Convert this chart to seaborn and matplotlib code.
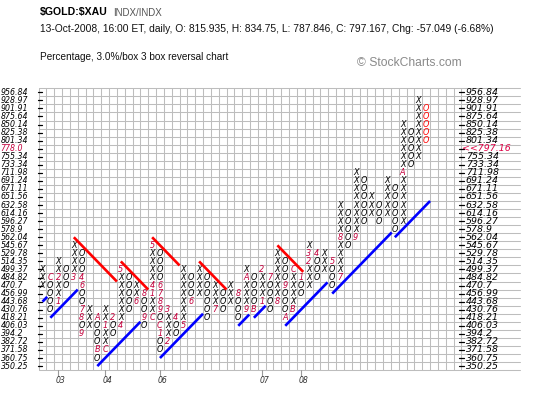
import matplotlib
matplotlib.use("Agg")
import matplotlib.pyplot as plt
import seaborn as sns
import pandas as pd

# ---------------- data ----------------
box_prices = [350.25, 360.75, 371.58, 382.72, 394.2, 406.03, 418.21, 430.76, 443.68,
              456.99, 470.7, 484.82, 499.37, 514.35, 529.78, 545.67, 562.04, 578.9,
              596.27, 614.16, 632.58, 651.56, 671.11, 691.24, 711.98, 733.34, 755.34,
              778.0, 801.34, 825.38, 850.14, 875.64, 901.91, 928.97, 956.84]
box_labels = ["350.25", "360.75", "371.58", "382.72", "394.2", "406.03", "418.21", "430.76",
              "443.68", "456.99", "470.7", "484.82", "499.37", "514.35", "529.78", "545.67",
              "562.04", "578.9", "596.27", "614.16", "632.58", "651.56", "671.11", "691.24",
              "711.98", "733.34", "755.34", "778.0", "801.34", "825.38", "850.14", "875.64",
              "901.91", "928.97", "956.84"]
last_box = 778.0
last_close_label = "<<797.16"

col_types = ["X", "O", "X", "O", "X", "O", "X", "O", "X", "O",
             "X", "O", "X", "O", "X", "O", "X", "O", "X", "O",
             "X", "O", "X", "O", "X", "O", "X", "O", "X", "O",
             "X", "O", "X", "O", "X", "O", "X", "O", "X", "O",
             "X", "O", "X", "O", "X", "O", "X", "O", "X", "O"]
col_low = [470.7, 430.76, 443.68, 470.7, 484.82, 394.2, 406.03, 360.75, 371.58, 394.2,
           406.03, 430.76, 443.68, 406.03, 418.21, 371.58, 382.72, 394.2, 406.03, 443.68,
           456.99, 418.21, 430.76, 430.76, 443.68, 418.21, 430.76, 430.76, 443.68, 430.76,
           443.68, 418.21, 430.76, 456.99, 470.7, 484.82, 499.37, 470.7, 484.82, 545.67,
           562.04, 596.27, 614.16, 596.27, 614.16, 578.9, 596.27, 733.34, 755.34, 801.34]
col_high = [499.37, 484.82, 514.35, 499.37, 545.67, 529.78, 430.76, 418.21, 430.76, 418.21,
            499.37, 484.82, 470.7, 456.99, 545.67, 529.78, 430.76, 418.21, 499.37, 484.82,
            499.37, 484.82, 470.7, 456.99, 470.7, 456.99, 499.37, 484.82, 499.37, 484.82,
            529.78, 514.35, 499.37, 484.82, 545.67, 529.78, 529.78, 514.35, 632.58, 614.16,
            711.98, 691.24, 651.56, 632.58, 691.24, 671.11, 850.14, 825.38, 928.97, 901.91]

month_col = [1, 2, 2, 4, 5, 5, 5, 5, 5, 7, 7, 8, 8, 9, 10, 10, 12, 13, 13, 14, 14, 14, 14,
             15, 15, 15, 15, 15, 15, 16, 16, 17, 18, 19, 22, 25, 26, 26, 27, 28, 28, 29,
             30, 31, 31, 32, 32, 33, 34, 34, 35, 37, 38, 38, 40, 46]
month_price = [484.82, 443.68, 484.82, 484.82, 484.82, 470.7, 430.76, 418.21, 394.2,
               418.21, 371.58, 371.58, 406.03, 418.21, 406.03, 499.37, 443.68, 456.99,
               418.21, 418.21, 456.99, 470.7, 545.67, 470.7, 456.99, 443.68, 430.76,
               406.03, 394.2, 382.72, 430.76, 418.21, 406.03, 443.68, 430.76, 456.99,
               430.76, 484.82, 430.76, 443.68, 499.37, 484.82, 443.68, 470.7, 418.21,
               430.76, 499.37, 484.82, 514.35, 529.78, 529.78, 514.35, 484.82, 562.04,
               562.04, 711.98]
month_char = ["C", "1", "2", "3", "4", "6", "7", "8", "9", "A", "B", "C", "1", "2", "4", "5",
              "6", "8", "9", "C", "1", "4", "5", "6", "7", "8", "9", "C", "1", "2", "3", "4",
              "5", "6", "7", "8", "9", "A", "B", "1", "2", "7", "8", "9", "A", "B", "C", "1",
              "2", "3", "4", "5", "7", "8", "9", "A"]

year_labels = ["03", "04", "06", "07", "08"]
year_cols = [2, 8, 15, 28, 33]

res_start_col = [4, 10, 14, 20, 30]
res_start_price = [562.04, 514.35, 562.04, 514.35, 545.67]
res_len = [5.5, 3.5, 3.5, 3.5, 3.3]

sup_start_col = [0, 1, 7, 15, 25, 27, 31, 37, 45]
sup_start_price = [443.68, 418.21, 350.25, 360.75, 406.03, 418.21, 406.03, 456.99, 562.04]
sup_len = [0.6, 3.5, 5.5, 5.5, 1.4, 1.5, 5.4, 7.6, 4.5]

n_grid_cols = 54

# ---------------- style ----------------
sns.set_theme(style="white")
plt.rcParams["font.family"] = ["DejaVu Sans"]

W, H = 543, 397
fig = plt.figure(figsize=(W / 100, H / 100), dpi=100)
fig.patch.set_facecolor("white")

gx0, gx1, gy0, gy1 = 38.6, 461.4, 88.3, 370.1
ax = fig.add_axes([gx0 / W, (H - gy1) / H, (gx1 - gx0) / W, (gy1 - gy0) / H])
ax.set_facecolor("white")
nrows = len(box_prices)
ax.set_xlim(-0.5, n_grid_cols - 0.5)
ax.set_ylim(-0.5, nrows - 0.5)
ax.axis("off")
cw = (gx1 - gx0) / n_grid_cols
rh = (gy1 - gy0) / nrows

grid_c = "#bdbdbd"
ext = (520 - gx1) / cw
for k in range(n_grid_cols + 1):
    ax.plot([k - 0.5, k - 0.5], [-0.5, nrows - 0.5], color=grid_c, lw=0.75, zorder=1,
            clip_on=False)
for k in range(nrows + 1):
    ax.plot([-0.5, n_grid_cols - 0.5 + ext], [k - 0.5, k - 0.5], color=grid_c, lw=0.75,
            zorder=1, clip_on=False)

row_of = {p: i for i, p in enumerate(box_prices)}

# tick dashes
for i in range(nrows):
    ax.plot([-0.5 - 1.0 / cw, -0.5 + 3.5 / cw], [i, i], color="black", lw=0.9,
            clip_on=False, zorder=3)
    ax.plot([n_grid_cols - 0.5 - 2.5 / cw, n_grid_cols - 0.5 + 3.0 / cw], [i, i],
            color="black", lw=0.9, clip_on=False, zorder=3)

# markers for months (lookup)
mk = {(c, row_of[p]): ch for c, p, ch in zip(month_col, month_price, month_char)}

mark_fs = 5.9
month_color = "#c4003c"
last_col = len(col_types) - 1
for c, (t, lo, hi) in enumerate(zip(col_types, col_low, col_high)):
    for r in range(row_of[lo], row_of[hi] + 1):
        if (c, r) in mk:
            s, colr = mk[(c, r)], month_color
        else:
            s = t
            colr = "#ff0000" if c == last_col else "black"
        ax.text(c, r, s, ha="center", va="center", fontsize=mark_fs, style="italic",
                color=colr, zorder=4)

# trend lines through seaborn
recs = []
lid = 0
for c0, p0, L in zip(res_start_col, res_start_price, res_len):
    r0 = row_of[p0]
    recs += [dict(x=c0, y=r0, line=lid, kind="res"), dict(x=c0 + L, y=r0 - L, line=lid, kind="res")]
    lid += 1
for c0, p0, L in zip(sup_start_col, sup_start_price, sup_len):
    r0 = row_of[p0]
    recs += [dict(x=c0, y=r0, line=lid, kind="sup"), dict(x=c0 + L, y=r0 + L, line=lid, kind="sup")]
    lid += 1
df = pd.DataFrame(recs)
sns.lineplot(data=df, x="x", y="y", units="line", estimator=None, hue="kind",
             palette={"res": "#ff0000", "sup": "#0000ff"}, lw=1.9, legend=False,
             sort=False, ax=ax, zorder=5, solid_capstyle="butt")
ax.set_xlim(-0.5, n_grid_cols - 0.5)
ax.set_ylim(-0.5, nrows - 0.5)
ax.axis("off")

# ---------- text helpers ----------
fig.canvas.draw()
renderer = fig.canvas.get_renderer()


def fit_fs(s, target_w, fs=7, **kw):
    t = fig.text(0, 0, s, fontsize=fs, **kw)
    w = t.get_window_extent(renderer).width
    t.remove()
    return fs * target_w / w


def put(x_px, y_px, s, fs, ha="left", **kw):
    return fig.text(x_px / W, 1 - y_px / H, s, fontsize=fs, ha=ha, va="center", **kw)


# axis price labels
lab_fs_l = fit_fs("956.84", 28, style="italic")
lab_fs_r = fit_fs("956.84", 33, style="italic")
for i, (p, s) in enumerate(zip(box_prices, box_labels)):
    y_px = gy1 - (i + 0.5) * rh
    colr = month_color if p == last_box else "black"
    put(0.5, y_px, s, lab_fs_l, style="italic", color=colr)
    if p == last_box:
        put(gx1 + 0.5, y_px, last_close_label, lab_fs_r, style="italic", color="#dd0044")
    else:
        put(gx1 + 4.5, y_px, s, lab_fs_r, style="italic", color="black")

# year ticks / labels
for lab, c in zip(year_labels, year_cols):
    x_px = gx0 + (c + 0.5) * cw
    fig.add_artist(plt.Line2D([x_px / W, x_px / W], [1 - gy1 / H, 1 - (gy1 + 6) / H],
                              color="#9a9a9a", lw=0.8))
    put(x_px + 2.5, 380.5, lab, fit_fs("03", 10, style="italic"), ha="center",
        style="italic", color="#333333")

# header
sans = ["Liberation Sans", "DejaVu Sans"]
t_fs = fit_fs(r"\$GOLD:\$XAU", 68, family=sans, weight="bold")
put(40, 12.5, r"\$GOLD:\$XAU", t_fs, family=sans, weight="bold", color="black")
put(113, 12.5, "INDX/INDX", fit_fs("INDX/INDX", 49, family=sans), family=sans,
    color="#555555")
line2 = "13-Oct-2008, 16:00 ET, daily, O: 815.935, H: 834.75, L: 787.846, C: 797.167, Chg: -57.049 (-6.68%)"
put(40, 28.5, line2, fit_fs(line2, 450, family=sans), family=sans, color="#111111")
line3 = "Percentage, 3.0%/box 3 box reversal chart"
put(40, 57, line3, fit_fs(line3, 190, family=sans), family=sans, color="#111111")
cr = "\u00a9 StockCharts.com"
put(357, 63.5, cr, fit_fs(cr, 105, family=sans), family=sans, color="#8a8a8a")

fig.savefig("out.png", dpi=100, facecolor="white")
